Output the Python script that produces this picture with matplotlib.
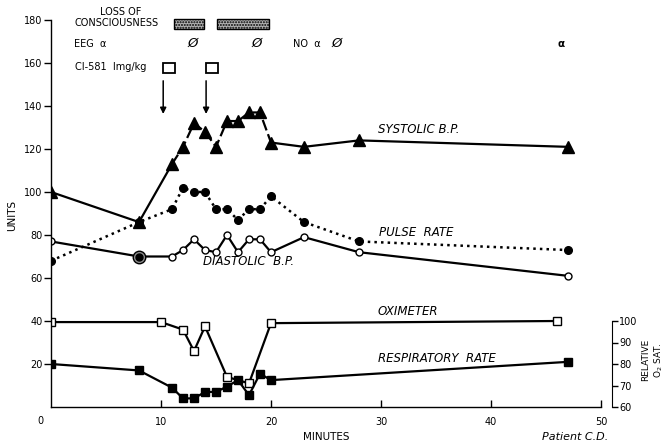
import matplotlib
matplotlib.use("Agg")
import matplotlib.pyplot as plt
from matplotlib.patches import Rectangle

# ── data (minutes, units) ───────────────────────────────────────────────────
sys_t = [0, 8, 11, 12, 13, 14, 15, 16, 17, 18, 19, 20, 23, 28, 47]
sys_v = [100, 86, 113, 121, 132, 128, 121, 133, 133, 137, 137, 123, 121, 124, 121]

pulse_t = [0, 8, 11, 12, 13, 14, 15, 16, 17, 18, 19, 20, 23, 28, 47]
pulse_v = [68, 86, 92, 102, 100, 100, 92, 92, 87, 92, 92, 98, 86, 77, 73]

dia_t = [0, 8, 11, 12, 13, 14, 15, 16, 17, 18, 19, 20, 23, 28, 47]
dia_v = [77, 70, 70, 73, 78, 73, 72, 80, 72, 78, 78, 72, 79, 72, 61]

oxi_t = [0, 10, 12, 13, 14, 16, 18, 20, 46]
oxi_v = [39.5, 39.5, 36, 26, 37.5, 14, 11, 39, 40]

resp_t = [0, 8, 11, 12, 13, 14, 15, 16, 17, 18, 19, 20, 47]
resp_v = [20, 17, 9, 4, 4, 7, 7, 9.5, 12.5, 5.5, 15.5, 12.5, 21]

loc_spans = [(11.2, 13.9), (15.1, 19.8)]   # loss of consciousness
dose_t = [10.2, 14.1]                       # CI-581 injections

FS = 7
fig = plt.figure(figsize=(6.67, 4.47), dpi=100)
ax = fig.add_axes([51 / 667, 40 / 447, 550 / 667, 387 / 447])
ax.set_xlim(0, 50)
ax.set_ylim(0, 180)

lw = 1.6
# pulse (dotted) underneath
ax.plot(pulse_t, pulse_v, ":", color="k", lw=1.8, marker="o", ms=5.5, mfc="k", mec="k")
# diastolic
ax.plot(dia_t, dia_v, "-", color="k", lw=lw, marker="o", ms=5, mfc="white", mec="k", mew=1)
ax.plot(dia_t[1], dia_v[1], "o", ms=9, mfc="0.55", mec="k", mew=1)
ax.plot(dia_t[1], dia_v[1], "o", ms=5, mfc="k", mec="k")
# systolic: solid, dashed through the busy section, solid again
ax.plot(sys_t[:3], sys_v[:3], "-", color="k", lw=lw)
ax.plot(sys_t[2:12], sys_v[2:12], color="k", lw=lw, ls=(0, (5, 1.8)))
ax.plot(sys_t[11:], sys_v[11:], "-", color="k", lw=lw)
ax.plot(sys_t, sys_v, "^", color="k", ms=8, ls="none")
# oximeter and respiratory rate
ax.plot(oxi_t, oxi_v, "-", color="k", lw=lw, marker="s", ms=5.5, mfc="white", mec="k", mew=1)
ax.plot(resp_t, resp_v, "-", color="k", lw=lw, marker="s", ms=6, mfc="k", mec="k")

# curve labels
lab = dict(fontsize=8.5, style="italic", color="k", va="center", ha="left")
ax.text(29.7, 129, "SYSTOLIC B.P.", **lab)
ax.text(29.8, 81, "PULSE  RATE", **lab)
ax.text(13.8, 67.5, "DIASTOLIC  B.P.", **lab)
ax.text(29.7, 44.5, "OXIMETER", **lab)
ax.text(29.7, 22.5, "RESPIRATORY  RATE", **lab)

# header annotations
hd = dict(fontsize=FS, color="k", va="center", clip_on=False)
ax.text(6.3, 183.5, "LOSS OF", ha="center", **hd)
ax.text(2.1, 178.5, "CONSCIOUSNESS", ha="left", **hd)
for a, b in loc_spans:
    ax.add_patch(Rectangle((a, 176), b - a, 4.6, facecolor="0.7", edgecolor="k",
                           hatch="......", lw=1, clip_on=False))
ax.text(2.1, 169, "EEG  α", ha="left", **hd)
for x in [12.9, 18.7, 26.0]:
    ax.text(x, 169, "Ø", ha="center", fontsize=9.5, style="italic", va="center")
ax.text(22.0, 169, "NO  α", ha="left", **hd)
ax.text(46.4, 169, "α", ha="center", fontsize=7.5, fontweight="bold", va="center")
ax.text(2.2, 158, "CI-581  Img/kg", ha="left", **hd)
for x in dose_t:
    ax.add_patch(Rectangle((x, 155.2), 1.05, 5.0, facecolor="white", edgecolor="k", lw=1.3))
    ax.annotate("", xy=(x, 135), xytext=(x, 153),
                arrowprops=dict(arrowstyle="-|>", color="k", lw=1.1,
                                mutation_scale=9))

# axes styling
for s in ["top", "right"]:
    ax.spines[s].set_visible(False)
ax.spines["left"].set_linewidth(1)
ax.spines["bottom"].set_linewidth(1)
ax.set_yticks(range(20, 181, 20))
ax.tick_params(axis="y", direction="out", length=5, width=1, labelsize=FS, pad=1)
ax.set_xticks(range(10, 51, 10))
ax.tick_params(axis="x", direction="in", length=5, width=1, labelsize=FS, pad=7)
ax.text(-1, -6.5, "0", fontsize=FS, ha="center", va="center", clip_on=False)

# right-hand O2 saturation scale
ax2 = ax.twinx()
ax2.set_ylim(60, 240)
for s in ["top", "left", "bottom"]:
    ax2.spines[s].set_visible(False)
ax2.spines["right"].set_position(("axes", 1.02))
ax2.spines["right"].set_bounds(60, 100)
ax2.set_yticks(range(60, 101, 10))
ax2.tick_params(axis="y", direction="out", length=4, width=1, labelsize=FS, pad=1)

fig.text(12 / 667, 0.519, "UNITS", rotation=90, fontsize=7.5, ha="center", va="center")
fig.text(0.489, 0.022, "MINUTES", fontsize=7.5, ha="center", va="center")
fig.text(0.862, 0.022, "Patient C.D.", fontsize=8, style="italic", ha="center", va="center")
fig.text(646 / 667, 0.195, "RELATIVE", rotation=90, fontsize=6.5, ha="center", va="center")
fig.text(659 / 667, 0.195, "O$_2$ SAT.", rotation=90, fontsize=6.5, ha="center", va="center")

fig.savefig("out.png", dpi=100)
